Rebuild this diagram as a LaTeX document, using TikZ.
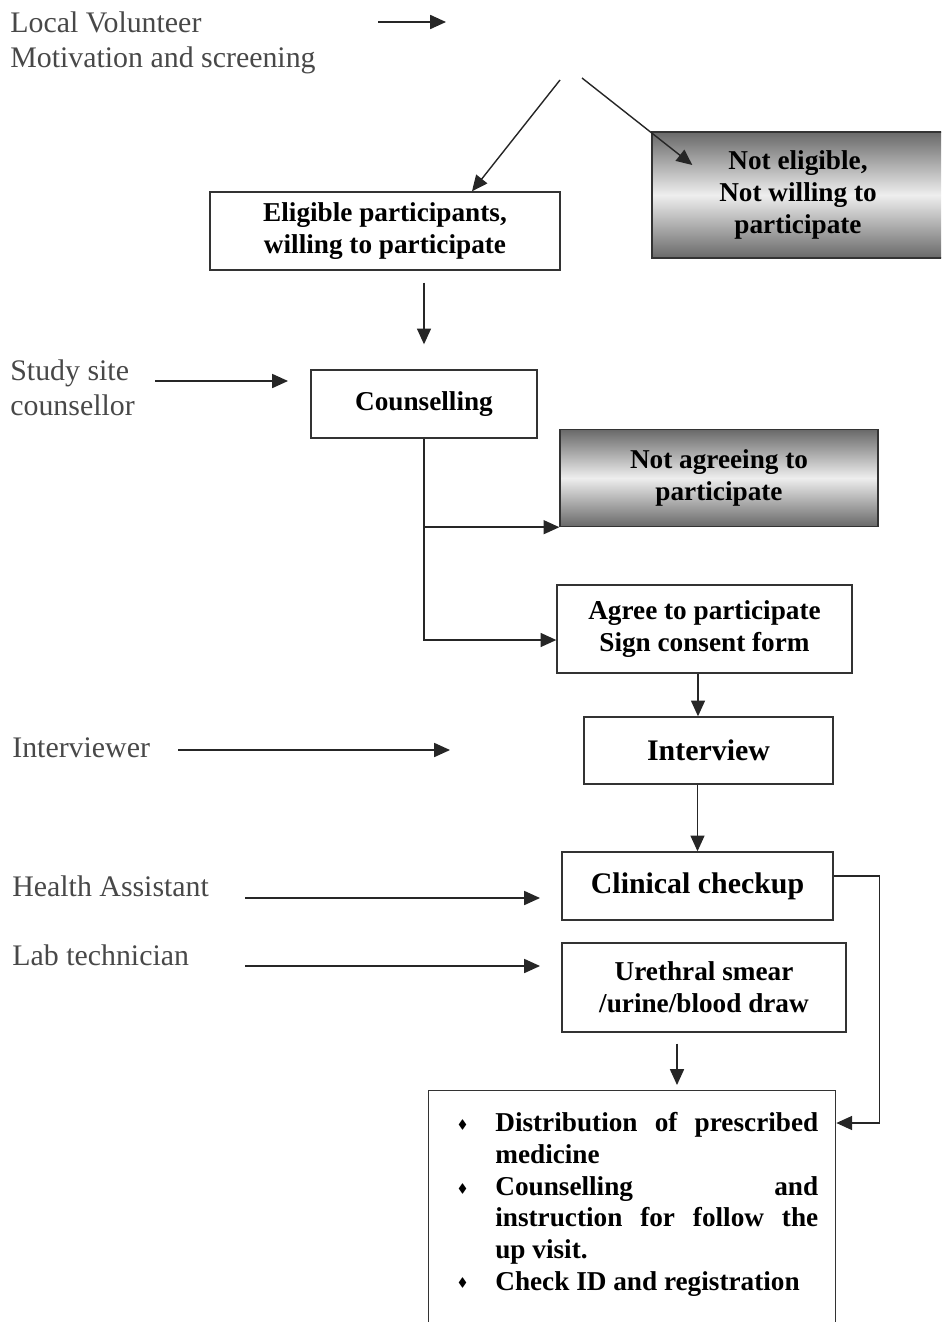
\documentclass[tikz,border=0pt]{standalone}
\usepackage{fontspec}
\setmainfont{Liberation Serif}
\usepackage{amssymb}
\usetikzlibrary{arrows.meta,positioning,calc}
\definecolor{labelgray}{RGB}{72,72,72}
\definecolor{shadedark}{RGB}{105,105,105}
\definecolor{shadelight}{RGB}{238,238,238}
\newcommand{\flowboxfont}{\fontsize{15.5}{18}\selectfont\bfseries}
\newcommand{\flowbigfont}{\fontsize{17}{20}\selectfont\bfseries}
\newcommand{\actorfont}{\fontsize{17}{20}\selectfont}

\begin{document}
\begin{tikzpicture}[
    x=0.02cm, y=-0.02cm,
    box/.style={draw=black!80, line width=0.8pt, fill=white, align=center, inner sep=2pt, font=\flowboxfont},
    bigbox/.style={box, font=\flowbigfont},
    greybox/.style={box, top color=shadedark, bottom color=shadedark, middle color=shadelight},
    actor/.style={anchor=west, align=left, inner sep=0pt, font=\actorfont, text=labelgray},
    listtext/.style={anchor=north west, inner sep=0pt, text width=7.16cm, align=justify, font=\flowboxfont},
    arr/.style={-{Triangle[length=9pt,width=8pt]}, line width=0.8pt, draw=black!85},
    link/.style={line width=0.8pt, draw=black!85}
]
\useasboundingbox (0,0) rectangle (941,1322);
\clip (0,0) rectangle (941,1322);

% Actors on the left
\node[actor] (volunteer) at (10,43) {Local Volunteer\\Motivation and screening};
\node[actor] (study) at (10,388) {Study site\\counsellor};
\node[actor] (interviewer) at (12,748) {Interviewer};
\node[actor] (health) at (12,886) {Health Assistant};
\node[actor] (lab) at (12,955) {Lab technician};

% Screening outcome
\node[box, minimum width=7cm, minimum height=1.56cm] (elig) at (385,231) {
    Eligible participants,\\willing to participate
};
\node[greybox, minimum width=5.84cm, minimum height=2.52cm] (notelig) at (798,195) {
    Not eligible,\\Not willing to\\participate
};

% Counselling step
\node[box, minimum width=4.52cm, minimum height=1.36cm] (couns) at (424,404) {Counselling};
\node[greybox, minimum width=6.36cm, minimum height=1.94cm] (notagree) at (719,478) {
    Not agreeing to\\participate
};
\node[box, minimum width=5.9cm, minimum height=1.76cm] (agree) at (704.5,629) {
    Agree to participate\\Sign consent form
};

% Interview and checkup
\node[bigbox, minimum width=4.98cm, minimum height=1.34cm] (interview) at (708.5,750.5) {Interview};
\node[bigbox, minimum width=5.42cm, minimum height=1.36cm] (clinical) at (697.5,886) {Clinical checkup};
\node[box, minimum width=5.68cm, minimum height=1.78cm] (ureth) at (704,987.5) {
    Urethral smear\\/urine/blood draw
};

% Final box (runs off the page)
\node[draw=black!80, line width=0.8pt, anchor=north west, inner sep=0pt, minimum width=8.14cm, minimum height=6cm] (distbox) at (428,1090) {};
\node[listtext] (distlist) at (460,1100) {
    \begin{list}{\raisebox{0.25ex}{\scriptsize$\blacklozenge$}}{\setlength{\leftmargin}{0.7cm}\setlength{\labelwidth}{0.3cm}\setlength{\labelsep}{0.56cm}\setlength{\itemsep}{0pt}\setlength{\topsep}{0pt}\setlength{\parsep}{0pt}}
    \item Distribution of prescribed\linebreak medicine
    \item Counselling and\linebreak instruction for follow the\linebreak up visit.
    \item Check ID and registration
    \end{list}
};

% Free arrow ends
\coordinate (lv_from) at (378,22);
\coordinate (lv_to) at (446,22);
\coordinate (split_l) at (560,80);
\coordinate (split_r) at (582,78);
\coordinate (ss_from) at (155,381);
\coordinate (ss_to) at (288,381);
\coordinate (iv_from) at (178,750);
\coordinate (iv_to) at (450,750);
\coordinate (ha_from) at (245,898);
\coordinate (ha_to) at (540,898);
\coordinate (lt_from) at (245,966);
\coordinate (lt_to) at (540,966);

% Connecting arrows
\draw[arr] (lv_from) -- (lv_to);
\draw[arr] (split_l) -- ([xshift=1.74cm]elig.north);
\draw[arr] (split_r) -- ($(notelig.west)+(41,-30)$);
\draw[arr, shorten <=0.24cm, shorten >=0.5cm] (elig.south -| couns.south) -- (couns.north);
\draw[arr] (ss_from) -- (ss_to);
\draw[arr] (couns.south) |- (notagree.south west);
\draw[arr] (couns.south) |- ([yshift=-0.22cm]agree.west);
\draw[arr] ([xshift=-0.13cm]agree.south) -- ([xshift=-0.13cm]agree.south |- interview.north);
\draw[arr] (iv_from) -- (iv_to);
\draw[arr] (interview.south -| clinical.north) -- (clinical.north);
\draw[arr] (ha_from) -- (ha_to);
\draw[arr] (lt_from) -- (lt_to);
\draw[arr, shorten <=0.22cm, shorten >=0.1cm] ([xshift=-0.54cm]ureth.south) -- ([xshift=-0.54cm]ureth.south |- distbox.north);
\draw[arr] ([yshift=0.2cm]clinical.east) -- ++(46,0) |- ([yshift=-0.66cm]distbox.north east);

\end{tikzpicture}
\end{document}
